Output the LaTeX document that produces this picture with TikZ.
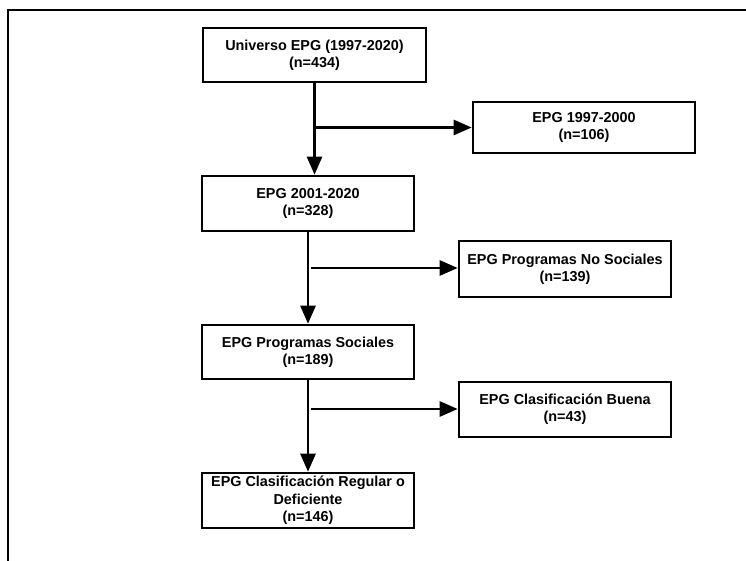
\documentclass[tikz,border=0pt]{standalone}
\usepackage{fontspec}
\setmainfont{Liberation Sans}
\usepackage{tikz}
\usetikzlibrary{arrows.meta}
\usetikzlibrary{positioning}

\tikzset{
  caja/.style={draw, line width=2.6pt, align=center, inner sep=0pt,
    minimum width=212pt, minimum height=55pt,
    font=\fontsize{14.4}{17.3}\selectfont\bfseries},
  flecha/.style={line width=2.6pt, -{Triangle[length=18pt,width=15pt]}}
}

\begin{document}
\begin{tikzpicture}[x=1pt,y=-1pt]
\useasboundingbox (0,0) rectangle (746,561);
\clip (0,0) rectangle (746,561);
% marco exterior
\draw[line width=2.6pt] (8,10) rectangle (770,590);
% cajas
\node[caja, minimum width=223pt, minimum height=54pt] (univ) at (314.5,55) {Universo EPG (1997-2020)\\(n=434)};
\node[caja, minimum width=222pt, minimum height=51pt] (epg97) at (584,127.5) {EPG 1997-2000\\(n=106)};
\node[caja] (epg01) at (308,203.5) {EPG 2001-2020\\(n=328)};
\node[caja, minimum height=56pt] (nosoc) at (565,269) {EPG Programas No Sociales\\(n=139)};
\node[caja, minimum height=54pt] (soc) at (308,352) {EPG Programas Sociales\\(n=189)};
\node[caja] (buena) at (565,409.5) {EPG Clasificaci\'on Buena\\(n=43)};
\node[caja] (regular) at (308,500.5) {EPG Clasificaci\'on Regular o\\Deficiente\\(n=146)};
% flechas
\draw[flecha] (univ.south) -- (univ.south |- epg01.north);
\coordinate (r1) at (315,127.5);
\draw[flecha] (r1) -- (epg97.west);
\draw[flecha] (epg01.south) -- (soc.north);
\coordinate (r2) at (311,268);
\draw[flecha] (r2) -- (nosoc.west |- r2);
\draw[flecha] (soc.south) -- (regular.north);
\coordinate (r3) at (311,409);
\draw[flecha] (r3) -- (buena.west |- r3);
\end{tikzpicture}
\end{document}
